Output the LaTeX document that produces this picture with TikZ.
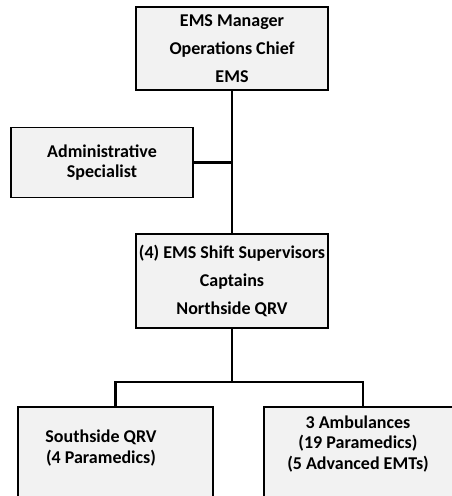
\documentclass[tikz,border=0pt]{standalone}
\usepackage{fontspec}
\setmainfont{Carlito}
\begin{document}
\begin{tikzpicture}[x=1pt,y=-1pt,
  box/.style={draw=black, line width=1.6pt, fill=black!5, inner sep=0pt},
  txt/.style={align=center, inner sep=0pt, font=\fontsize{18}{28}\selectfont\bfseries},
  tight/.style={font=\fontsize{18}{20.5}\selectfont\bfseries},
  wire/.style={line width=2.6pt}]
\useasboundingbox (0,0) rectangle (452,496);
\clip (0,0) rectangle (452,496);

% boxes
\node[box, txt, minimum width=192pt, minimum height=83pt] (mgr) at (232,48.5)
  {EMS Manager\\Operations Chief\\EMS};
\node[box, txt, tight, minimum width=182pt, minimum height=70pt] (admin) at (102,162.5)
  {Administrative\\Specialist};
\node[box, txt, minimum width=192pt, minimum height=94pt] (sup) at (232,281)
  {(4) EMS Shift Supervisors\\Captains\\Northside QRV};

% lower boxes run past the bottom edge
\node[box, minimum width=195pt, minimum height=113pt] (south) at (115.5,463.5) {};
\node[txt, tight] (southtxt) at (101,448) {Southside QRV\\(4 Paramedics)};
\node[box, minimum width=198pt, minimum height=113pt] (amb) at (363,463.5) {};
\node[txt, tight] (ambtxt) at (358,444) {3 Ambulances\\(19 Paramedics)\\(5 Advanced EMTs)};

% connectors
\coordinate (split) at (232,382);
\draw[wire] (mgr.south) -- (sup.north);
\draw[wire] (admin.east) -- (admin.east -| mgr.south);
\draw[wire] (sup.south) -- (split);
\draw[wire] (south.north) |- (split) -| (amb.north);
\end{tikzpicture}
\end{document}
